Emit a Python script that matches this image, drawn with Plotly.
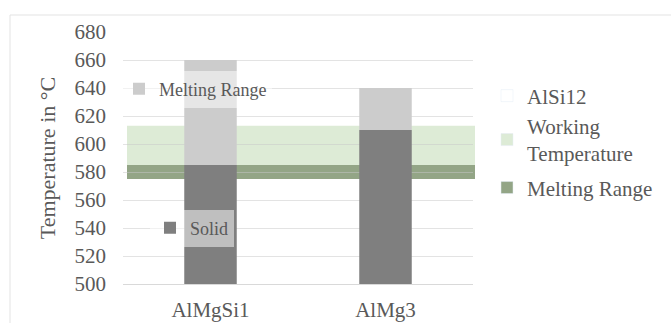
import plotly.graph_objects as go

# ---- data ----
alloys = ["AlMgSi1", "AlMg3"]
solidus = [585, 610]          # top of "Solid" bar
liquidus = [660, 640]         # top of "Melting Range" bar
alsi12_melting = [575, 585]   # AlSi12 melting range (band)
alsi12_working = [585, 613]   # AlSi12 working temperature (band)
y_ticks = [500, 520, 540, 560, 580, 600, 620, 640, 660, 680]

FONT = "Liberation Serif, Tinos, Times New Roman, serif"
TXT = "#595959"
DARK = "#7f7f7f"
LIGHT = "#cccccc"
GREEN_L = "rgb(221,235,214)"
GREEN_D = "rgb(147,165,134)"

W, H = 671, 323
L, R, T, B = 123, 198, 32, 39
pw, ph = W - L - R, H - T - B

def px(x):
    return (x - L) / pw

def py(y):
    return (H - B - y) / ph

def f(size):
    return dict(family=FONT, size=size, color=TXT)

fig = go.Figure()

melt_height = [l - s for l, s in zip(liquidus, solidus)]

fig.add_trace(go.Bar(x=alloys, y=solidus, name="Solid", marker_color=DARK,
                     marker_line_width=0, width=0.3, legend="legend2"))
fig.add_trace(go.Bar(x=alloys, y=melt_height, base=solidus, name="Melting Range",
                     marker_color=LIGHT, marker_line_width=0, width=0.3, legend="legend"))

# legend-only entries for the AlSi12 band
fig.add_trace(go.Bar(x=[None], y=[None], name="AlSi12", marker_color="rgba(0,0,0,0)",
                     legend="legend3", legendgroup="a"))
fig.add_trace(go.Bar(x=[None], y=[None], name="Working<br>Temperature", marker_color=GREEN_L,
                     legend="legend3", legendgroup="a"))
fig.add_trace(go.Bar(x=[None], y=[None], name="Melting Range", marker_color=GREEN_D,
                     legend="legend3", legendgroup="c"))

shapes = [
    dict(type="rect", xref="paper", yref="y", x0=px(127), x1=px(475),
         y0=alsi12_working[0], y1=alsi12_working[1], fillcolor=GREEN_L,
         line_width=0, layer="below"),
    dict(type="rect", xref="paper", yref="y", x0=px(127), x1=px(475),
         y0=alsi12_melting[0], y1=alsi12_melting[1], fillcolor=GREEN_D,
         line_width=0, layer="below"),
    dict(type="rect", xref="paper", yref="paper", x0=px(10), x1=px(700),
         y0=py(340), y1=py(15), line=dict(color="#e3e3e3", width=1),
         fillcolor="rgba(0,0,0,0)", layer="above"),
]

fig.update_layout(
    width=W, height=H,
    margin=dict(l=L, r=R, t=T, b=B, autoexpand=False),
    paper_bgcolor="white",
    plot_bgcolor="rgba(0,0,0,0)",
    barmode="overlay",
    showlegend=True,
    font=f(18),
    shapes=shapes,
    xaxis=dict(showgrid=False, ticks="", showline=True, linecolor="#d9d9d9",
               tickfont=f(21), ticklabelstandoff=7, fixedrange=True,
               automargin=False),
    yaxis=dict(range=[500, 680], tickvals=y_ticks, showgrid=True,
               gridcolor="rgba(200,200,200,0.5)", gridwidth=1, zeroline=False,
               ticks="", tickfont=f(21), ticklabelstandoff=16, automargin=False,
               title=dict(text="Temperature in °C", font=f(22), standoff=12)),
    legend=dict(x=px(119), y=py(89), xanchor="left", yanchor="middle",
                bgcolor="rgba(255,255,255,0.5)", font=f(18), borderwidth=0),
    legend2=dict(x=px(150), y=py(228), xanchor="left", yanchor="middle",
                 bgcolor="rgba(255,255,255,0.5)", font=f(18), borderwidth=0),
    legend3=dict(x=px(487), y=py(142), xanchor="left", yanchor="middle",
                 bgcolor="rgba(0,0,0,0)", font=f(21),
                 traceorder="grouped", tracegroupgap=4, borderwidth=0),
)

fig.write_html("out.html")
